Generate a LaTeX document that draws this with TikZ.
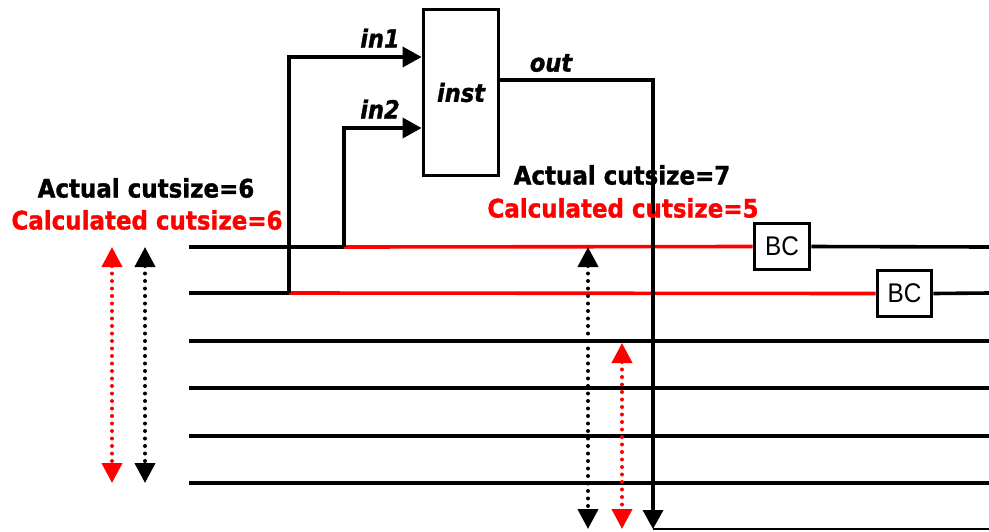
\documentclass[tikz,border=0pt]{standalone}
\usepackage{fontspec}
\setmainfont{DejaVu Sans}
\newfontfamily\heavyfont[FakeBold=1.3,FakeStretch=0.9]{DejaVu Sans Bold}
\newfontfamily\heavyitfont[FakeBold=1.3,FakeStretch=0.9]{DejaVu Sans Bold Oblique}
\newfontfamily\bcfont[FakeStretch=0.9]{Liberation Sans}
\usetikzlibrary{arrows.meta}
\begin{document}
\begin{tikzpicture}[x=1pt,y=-1pt,
  wire/.style={line width=3.6pt},
  redwire/.style={line width=3.6pt,draw=red},
  thinwire/.style={line width=2.5pt},
  box/.style={draw,line width=3.8pt,inner sep=0pt,fill=white},
  inarrow/.style={-{Triangle[length=19pt,width=20pt]}},
  dotarrow/.style={line width=4pt,line cap=round,dash pattern=on 0pt off 7.5pt,
     {Triangle[length=20pt,width=20pt]}-{Triangle[length=20pt,width=20pt]}},
  pinlbl/.style={font=\heavyitfont\fontsize{25}{27}\selectfont,inner sep=0pt},
  cutlbl/.style={font=\heavyfont\fontsize{25.5}{28}\selectfont,inner sep=0pt},
  bclbl/.style={font=\bcfont\fontsize{27}{29}\selectfont}
]
\useasboundingbox (0,0) rectangle (989,531);

% boxes
\node[box,minimum width=75pt,minimum height=166pt,pinlbl] (inst) at (461,92.5) {inst};
\node[box,minimum width=55pt,minimum height=46pt,bclbl] (bc1) at (782,246.5) {BC};
\node[box,minimum width=54pt,minimum height=46pt,bclbl] (bc2) at (904.5,293.5) {BC};

% coordinates
\coordinate (w1s) at (189,247);
\coordinate (w1t) at (344,247);
\coordinate (w1e) at (989,247);
\coordinate (w2s) at (189,293);
\coordinate (w2t) at (289,293);
\coordinate (w2e) at (989,293);
\coordinate (in1y) at (0,57);
\coordinate (in2y) at (0,128);
\coordinate (outs) at (500,80);
\coordinate (oute) at (653,529);
\coordinate (w7e) at (989,529);
\foreach \i/\y in {3/341,4/388,5/436,6/483}{
  \coordinate (w\i s) at (189,\y);
  \coordinate (w\i e) at (989,\y);
}

% horizontal wires
\draw[wire] (w1s) -- (w1t);
\draw[redwire] (w1t) -- (bc1.west);
\draw[wire] (bc1.east) -- (w1e);
\draw[wire] (w2s) -- (w2t);
\draw[redwire] (w2t) -- (bc2.west);
\draw[wire] (bc2.east) -- (w2e);
\foreach \i in {3,4,5,6}{\draw[wire] (w\i s) -- (w\i e);}
\draw[thinwire] (oute) -- (w7e);

% pin wires
\draw[wire,inarrow,line join=miter] (w2t) |- (inst.west |- in1y);
\draw[wire,inarrow,line join=miter] (w1t) |- (inst.west |- in2y);
\draw[wire,inarrow,line join=miter] (outs) -| (oute);

% pin labels
\node[pinlbl] (l1) at (380,38) {in1};
\node[pinlbl] (l2) at (380,109) {in2};
\node[pinlbl] (lo) at (551,63) {out};

% cutsize labels
\node[cutlbl] (a6) at (146,188) {Actual cutsize=6};
\node[cutlbl,text=red] (c6) at (147,220) {Calculated cutsize=6};
\node[cutlbl] (a7) at (622,175) {Actual cutsize=7};
\node[cutlbl,text=red] (c5) at (623,208) {Calculated cutsize=5};

% dotted measure arrows
\coordinate (r1t) at (112,247); \coordinate (r1b) at (112,483);
\coordinate (k1t) at (145,247); \coordinate (k1b) at (145,483);
\coordinate (k2t) at (588,247); \coordinate (k2b) at (588,529);
\coordinate (r2t) at (622,343); \coordinate (r2b) at (622,529);
\draw[dotarrow,red] (r1t) -- (r1b);
\draw[dotarrow,black] (k1t) -- (k1b);
\draw[dotarrow,black] (k2t) -- (k2b);
\draw[dotarrow,red] (r2t) -- (r2b);
\end{tikzpicture}
\end{document}
